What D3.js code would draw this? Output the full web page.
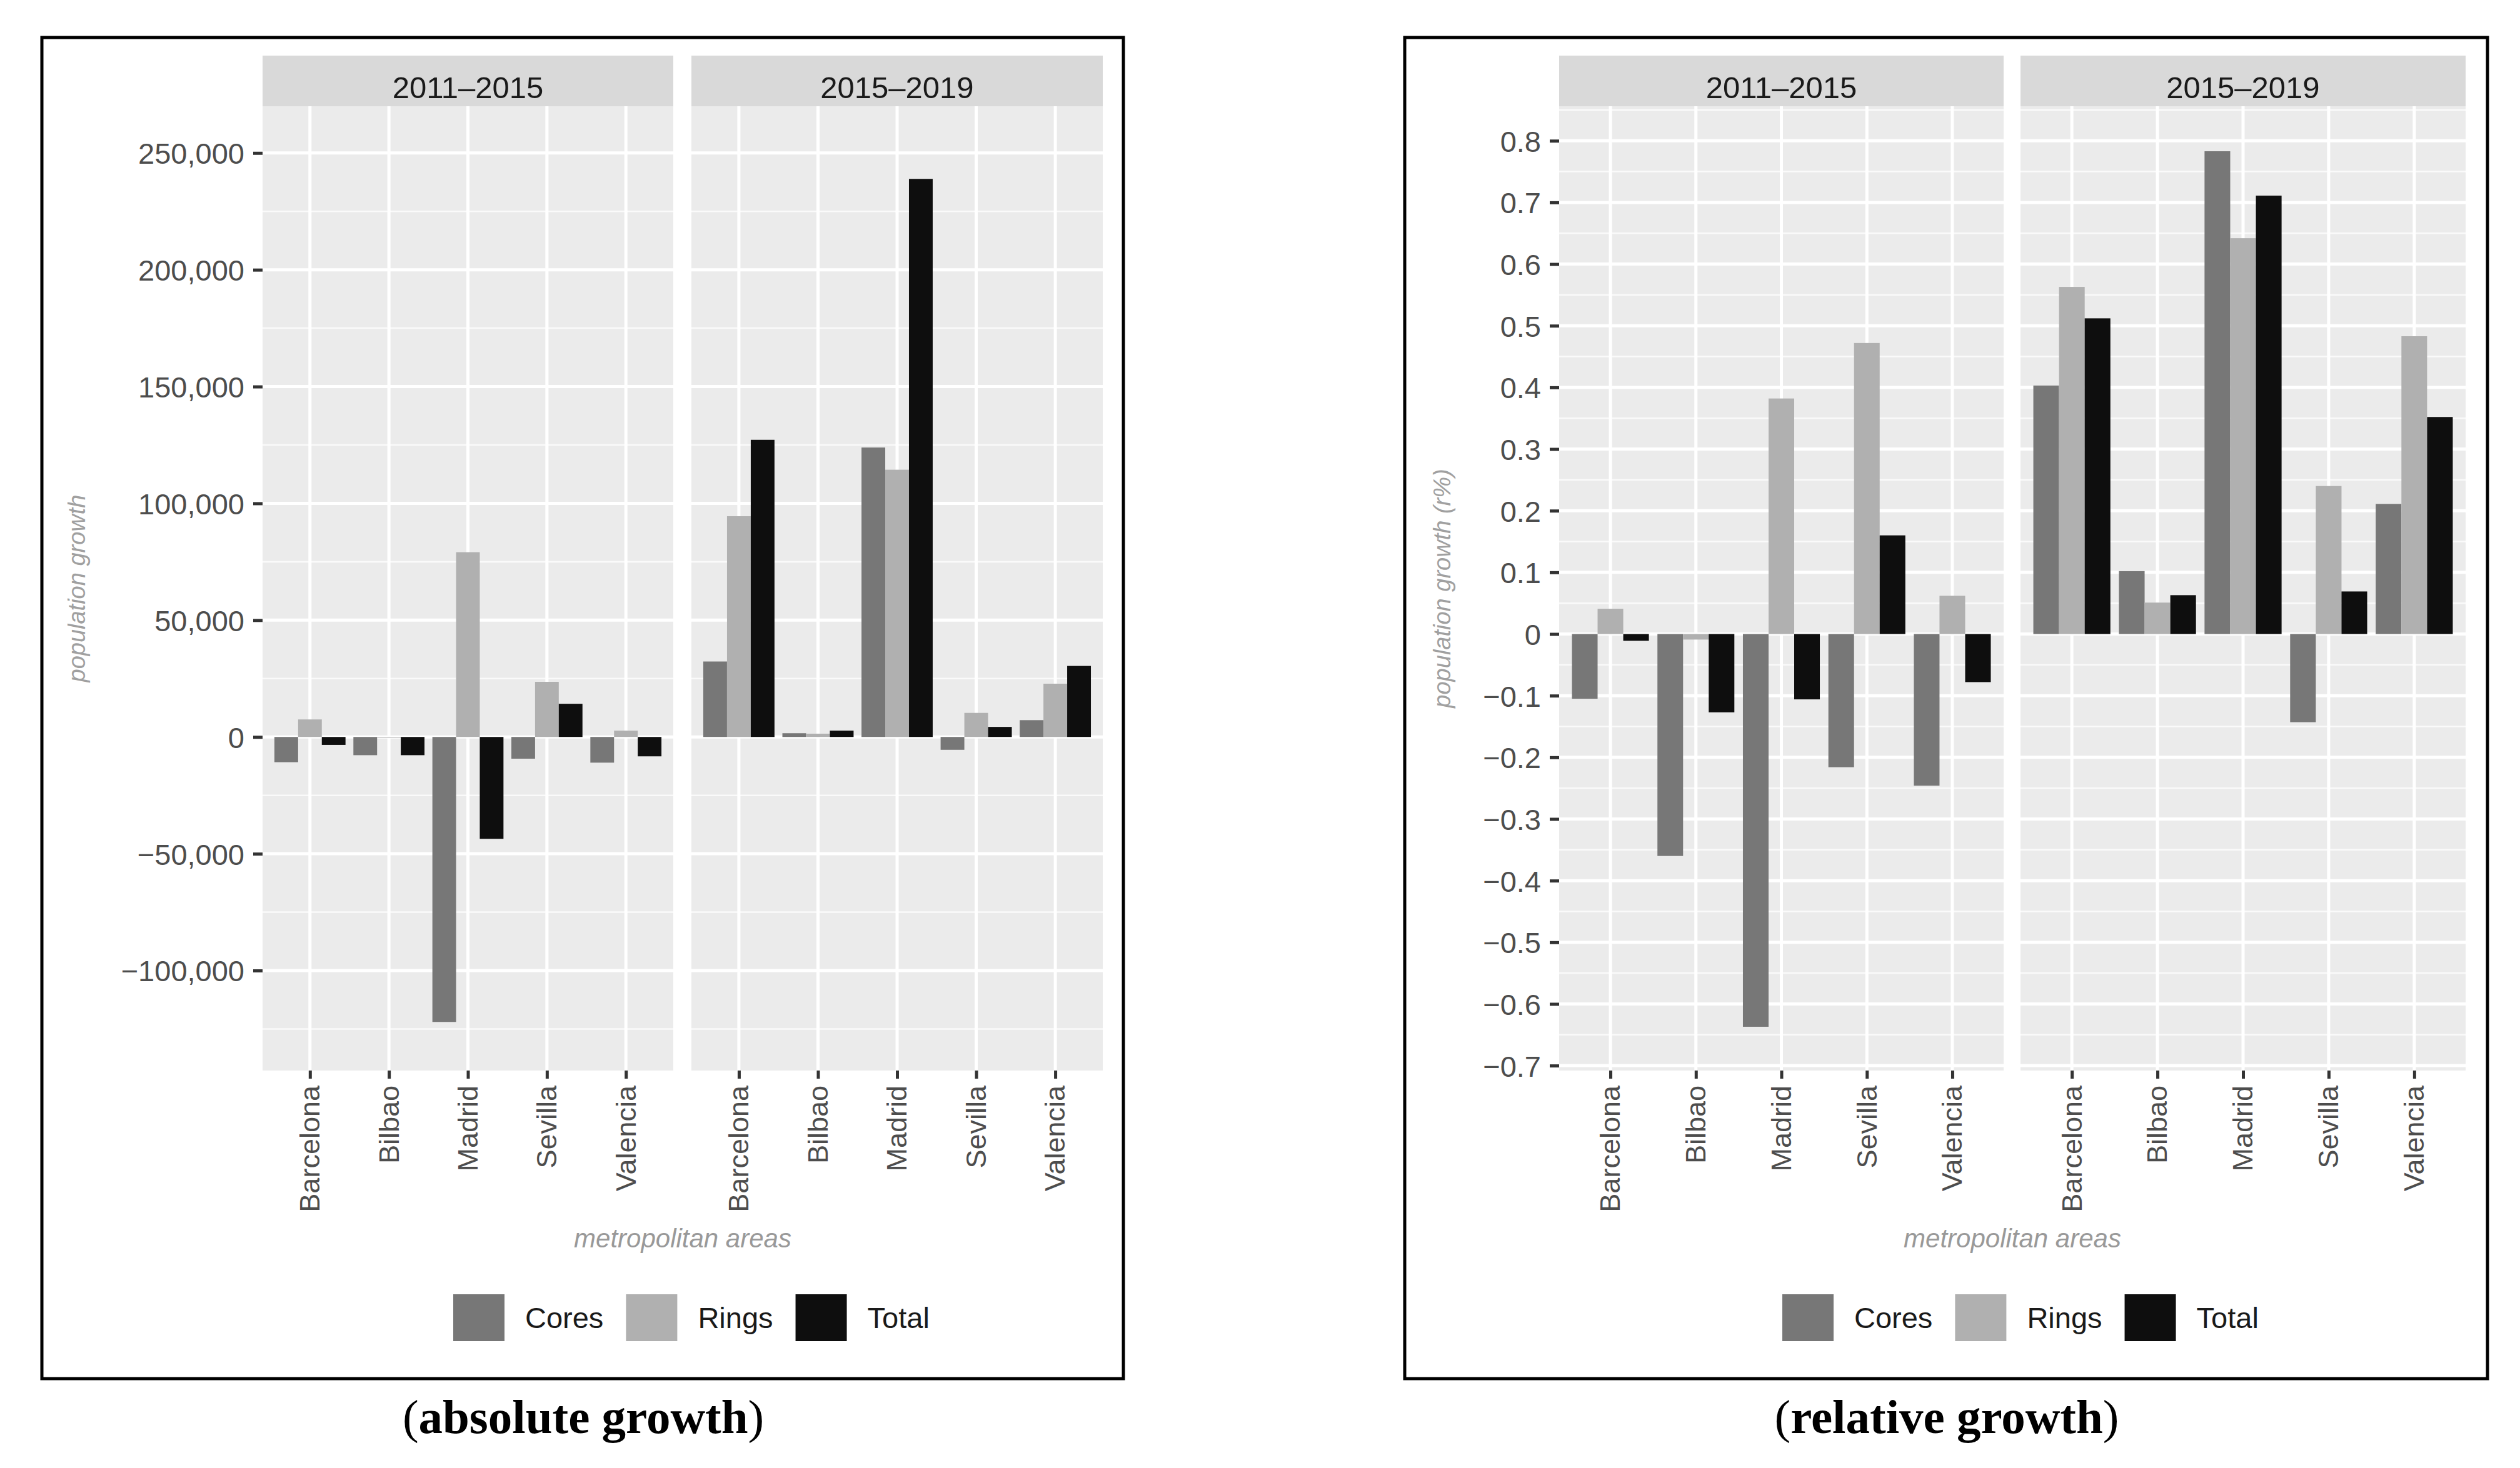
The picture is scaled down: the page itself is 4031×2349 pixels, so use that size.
<!DOCTYPE html>
<html>
<head>
<meta charset="utf-8">
<script src="https://cdn.jsdelivr.net/npm/d3@7"></script>
<style>
  body { margin: 0; background: #fff; }
  svg text { font-family: "Liberation Sans", Arial, sans-serif; }
  svg text.caption { font-family: "Liberation Serif", "Times New Roman", serif; }
</style>
</head>
<body>
<svg id="fig" width="4031" height="2349"></svg>
<script>
// ---- data ----
const periods = ['2011–2015', '2015–2019'];
const areas = ['Barcelona', 'Bilbao', 'Madrid', 'Sevilla', 'Valencia'];
const groups = ['Cores', 'Rings', 'Total'];

// absolute growth (inhabitants)
const absCores1115 = [-10800, -7800, -122000, -9300, -11000];
const absRings1115 = [7500, -300, 79100, 23600, 2700];
const absTotal1115 = [-3400, -7800, -43600, 14200, -8300];
const absCores1519 = [32300, 1600, 123900, -5500, 7200];
const absRings1519 = [94500, 1400, 114400, 10300, 22800];
const absTotal1519 = [127200, 2700, 238900, 4300, 30400];
const absTicks = [-100000, -50000, 0, 50000, 100000, 150000, 200000, 250000];

// relative growth (r%)
const relCores1115 = [-0.105, -0.36, -0.637, -0.216, -0.246];
const relRings1115 = [0.041, -0.009, 0.382, 0.472, 0.062];
const relTotal1115 = [-0.011, -0.127, -0.106, 0.160, -0.078];
const relCores1519 = [0.403, 0.102, 0.783, -0.143, 0.211];
const relRings1519 = [0.563, 0.051, 0.642, 0.240, 0.483];
const relTotal1519 = [0.512, 0.063, 0.711, 0.069, 0.352];
const relTicks = [-0.7, -0.6, -0.5, -0.4, -0.3, -0.2, -0.1, 0, 0.1, 0.2, 0.3, 0.4, 0.5, 0.6, 0.7, 0.8];

// ---- style ----
const groupColor = d3.scaleOrdinal().domain(groups).range(['#777777', '#b0b0b0', '#0e0e0e']);
const PANEL_TOP = 170;
const PANEL_BOTTOM = 1713;
const STRIP_TOP = 89;

function rows(cores, rings, total) {
  return areas.map((a, i) => ({
    area: a,
    values: [
      { key: 'Cores', v: cores[i] },
      { key: 'Rings', v: rings[i] },
      { key: 'Total', v: total[i] },
    ],
  }));
}

function drawChart(opt) {
  const svg = d3.select('#fig');
  const g = svg.append('g');

  // outer frame
  g.append('rect')
    .attr('x', opt.box[0]).attr('y', opt.box[1])
    .attr('width', opt.box[2] - opt.box[0]).attr('height', opt.box[3] - opt.box[1])
    .attr('fill', 'none').attr('stroke', '#000').attr('stroke-width', 5);

  const y = d3.scaleLinear().domain(opt.domain).range([PANEL_BOTTOM, PANEL_TOP]);
  const step = opt.ticks[1] - opt.ticks[0];
  const minors = d3.range(opt.ticks[0] - step / 2, opt.ticks[opt.ticks.length - 1] + step, step)
    .filter(v => v >= opt.domain[0] && v <= opt.domain[1]);

  opt.panels.forEach((p, pi) => {
    const [x0, x1] = p;
    const x = d3.scalePoint().domain(areas).range([x0, x1]).padding(0.6);
    const xs = d3.scaleBand().domain(groups)
      .range([-0.45 * x.step(), 0.45 * x.step()]);

    // strip
    g.append('rect')
      .attr('x', x0).attr('y', STRIP_TOP)
      .attr('width', x1 - x0).attr('height', PANEL_TOP - STRIP_TOP)
      .attr('fill', '#d9d9d9');
    g.append('text')
      .attr('x', (x0 + x1) / 2).attr('y', 157)
      .attr('text-anchor', 'middle')
      .attr('font-size', 49)
      .attr('fill', '#1a1a1a')
      .text(periods[pi]);

    // panel background
    g.append('rect')
      .attr('x', x0).attr('y', PANEL_TOP)
      .attr('width', x1 - x0).attr('height', PANEL_BOTTOM - PANEL_TOP)
      .attr('fill', '#ebebeb');

    // grid
    g.append('g').selectAll('line').data(minors).enter().append('line')
      .attr('x1', x0).attr('x2', x1)
      .attr('y1', d => y(d)).attr('y2', d => y(d))
      .attr('stroke', '#fafafa').attr('stroke-width', 2.5);
    g.append('g').selectAll('line').data(opt.ticks).enter().append('line')
      .attr('x1', x0).attr('x2', x1)
      .attr('y1', d => y(d)).attr('y2', d => y(d))
      .attr('stroke', '#fff').attr('stroke-width', 5);
    g.append('g').selectAll('line').data(areas).enter().append('line')
      .attr('x1', d => x(d)).attr('x2', d => x(d))
      .attr('y1', PANEL_TOP).attr('y2', PANEL_BOTTOM)
      .attr('stroke', '#fff').attr('stroke-width', 5);

    // bars
    const grp = g.append('g').selectAll('g')
      .data(opt.data[pi]).enter().append('g')
      .attr('transform', d => `translate(${x(d.area)},0)`);
    grp.selectAll('rect').data(d => d.values).enter().append('rect')
      .attr('x', d => xs(d.key))
      .attr('width', xs.bandwidth())
      .attr('y', d => y(Math.max(0, d.v)))
      .attr('height', d => Math.abs(y(d.v) - y(0)))
      .attr('fill', d => groupColor(d.key));

    // x axis
    const xa = g.append('g')
      .attr('transform', `translate(0,${PANEL_BOTTOM})`)
      .call(d3.axisBottom(x).tickSize(13));
    xa.select('.domain').remove();
    xa.selectAll('.tick line').attr('stroke', '#333').attr('stroke-width', 5);
    xa.selectAll('.tick text')
      .attr('transform', 'rotate(-90)')
      .attr('x', -24).attr('y', 0).attr('dy', '0.33em')
      .attr('text-anchor', 'end')
      .attr('font-size', 45)
      .attr('fill', '#4d4d4d');
  });

  // y axis
  const ya = g.append('g')
    .attr('transform', `translate(${opt.panels[0][0]},0)`)
    .call(d3.axisLeft(y).tickValues(opt.ticks).tickSize(15).tickPadding(14).tickFormat(opt.fmt));
  ya.select('.domain').remove();
  ya.selectAll('.tick line').attr('stroke', '#333').attr('stroke-width', 5);
  ya.selectAll('.tick text')
    .attr('font-size', 47)
    .attr('fill', '#4d4d4d')
    .attr('dy', '0.36em');

  // axis titles
  g.append('text')
    .attr('transform', `translate(${opt.yTitleX},${(PANEL_TOP + PANEL_BOTTOM) / 2}) rotate(-90)`)
    .attr('text-anchor', 'middle').attr('dy', '0.35em')
    .attr('font-size', 38).attr('font-style', 'italic')
    .attr('fill', '#a0a0a0')
    .text(opt.yTitle);
  const pc = (opt.panels[0][0] + opt.panels[1][1]) / 2;
  g.append('text')
    .attr('x', pc).attr('y', 1996)
    .attr('text-anchor', 'middle')
    .attr('font-size', 42).attr('font-style', 'italic')
    .attr('fill', '#999')
    .text('metropolitan areas');

  // legend
  const lg = g.append('g');
  let lx = opt.legendX;
  groups.forEach((k) => {
    lg.append('rect')
      .attr('x', lx).attr('y', 2071)
      .attr('width', 82).attr('height', 75)
      .attr('fill', groupColor(k));
    const t = lg.append('text')
      .attr('x', lx + 82 + 33).attr('y', 2108)
      .attr('dy', '0.36em')
      .attr('font-size', 47)
      .attr('fill', '#1a1a1a')
      .text(k);
    lx += 82 + 33 + t.node().getComputedTextLength() + 36;
  });

  // caption below the frame
  const cap = g.append('text')
    .attr('class', 'caption')
    .attr('x', opt.captionX).attr('y', 2293)
    .attr('text-anchor', 'middle')
    .attr('font-size', 77)
    .attr('fill', '#000');
  cap.append('tspan').text('(');
  cap.append('tspan').attr('font-weight', 'bold').text(opt.caption);
  cap.append('tspan').text(')');
}

drawChart({
  box: [67, 60, 1797, 2206],
  panels: [[420, 1077], [1106, 1764]],
  domain: [-142800, 270000],
  ticks: absTicks,
  fmt: d3.format(','),
  data: [
    rows(absCores1115, absRings1115, absTotal1115),
    rows(absCores1519, absRings1519, absTotal1519),
  ],
  yTitle: 'population growth',
  yTitleX: 123,
  legendX: 725,
  caption: 'absolute growth',
  captionX: 933,
});

drawChart({
  box: [2247, 60, 3979, 2206],
  panels: [[2494, 3205], [3232, 3944]],
  domain: [-0.708, 0.856],
  ticks: relTicks,
  fmt: d => (d === 0 ? '0' : d3.format('.1f')(d)),
  data: [
    rows(relCores1115, relRings1115, relTotal1115),
    rows(relCores1519, relRings1519, relTotal1519),
  ],
  yTitle: 'population growth (r%)',
  yTitleX: 2307,
  legendX: 2851,
  caption: 'relative growth',
  captionX: 3114,
});
</script>
</body>
</html>
